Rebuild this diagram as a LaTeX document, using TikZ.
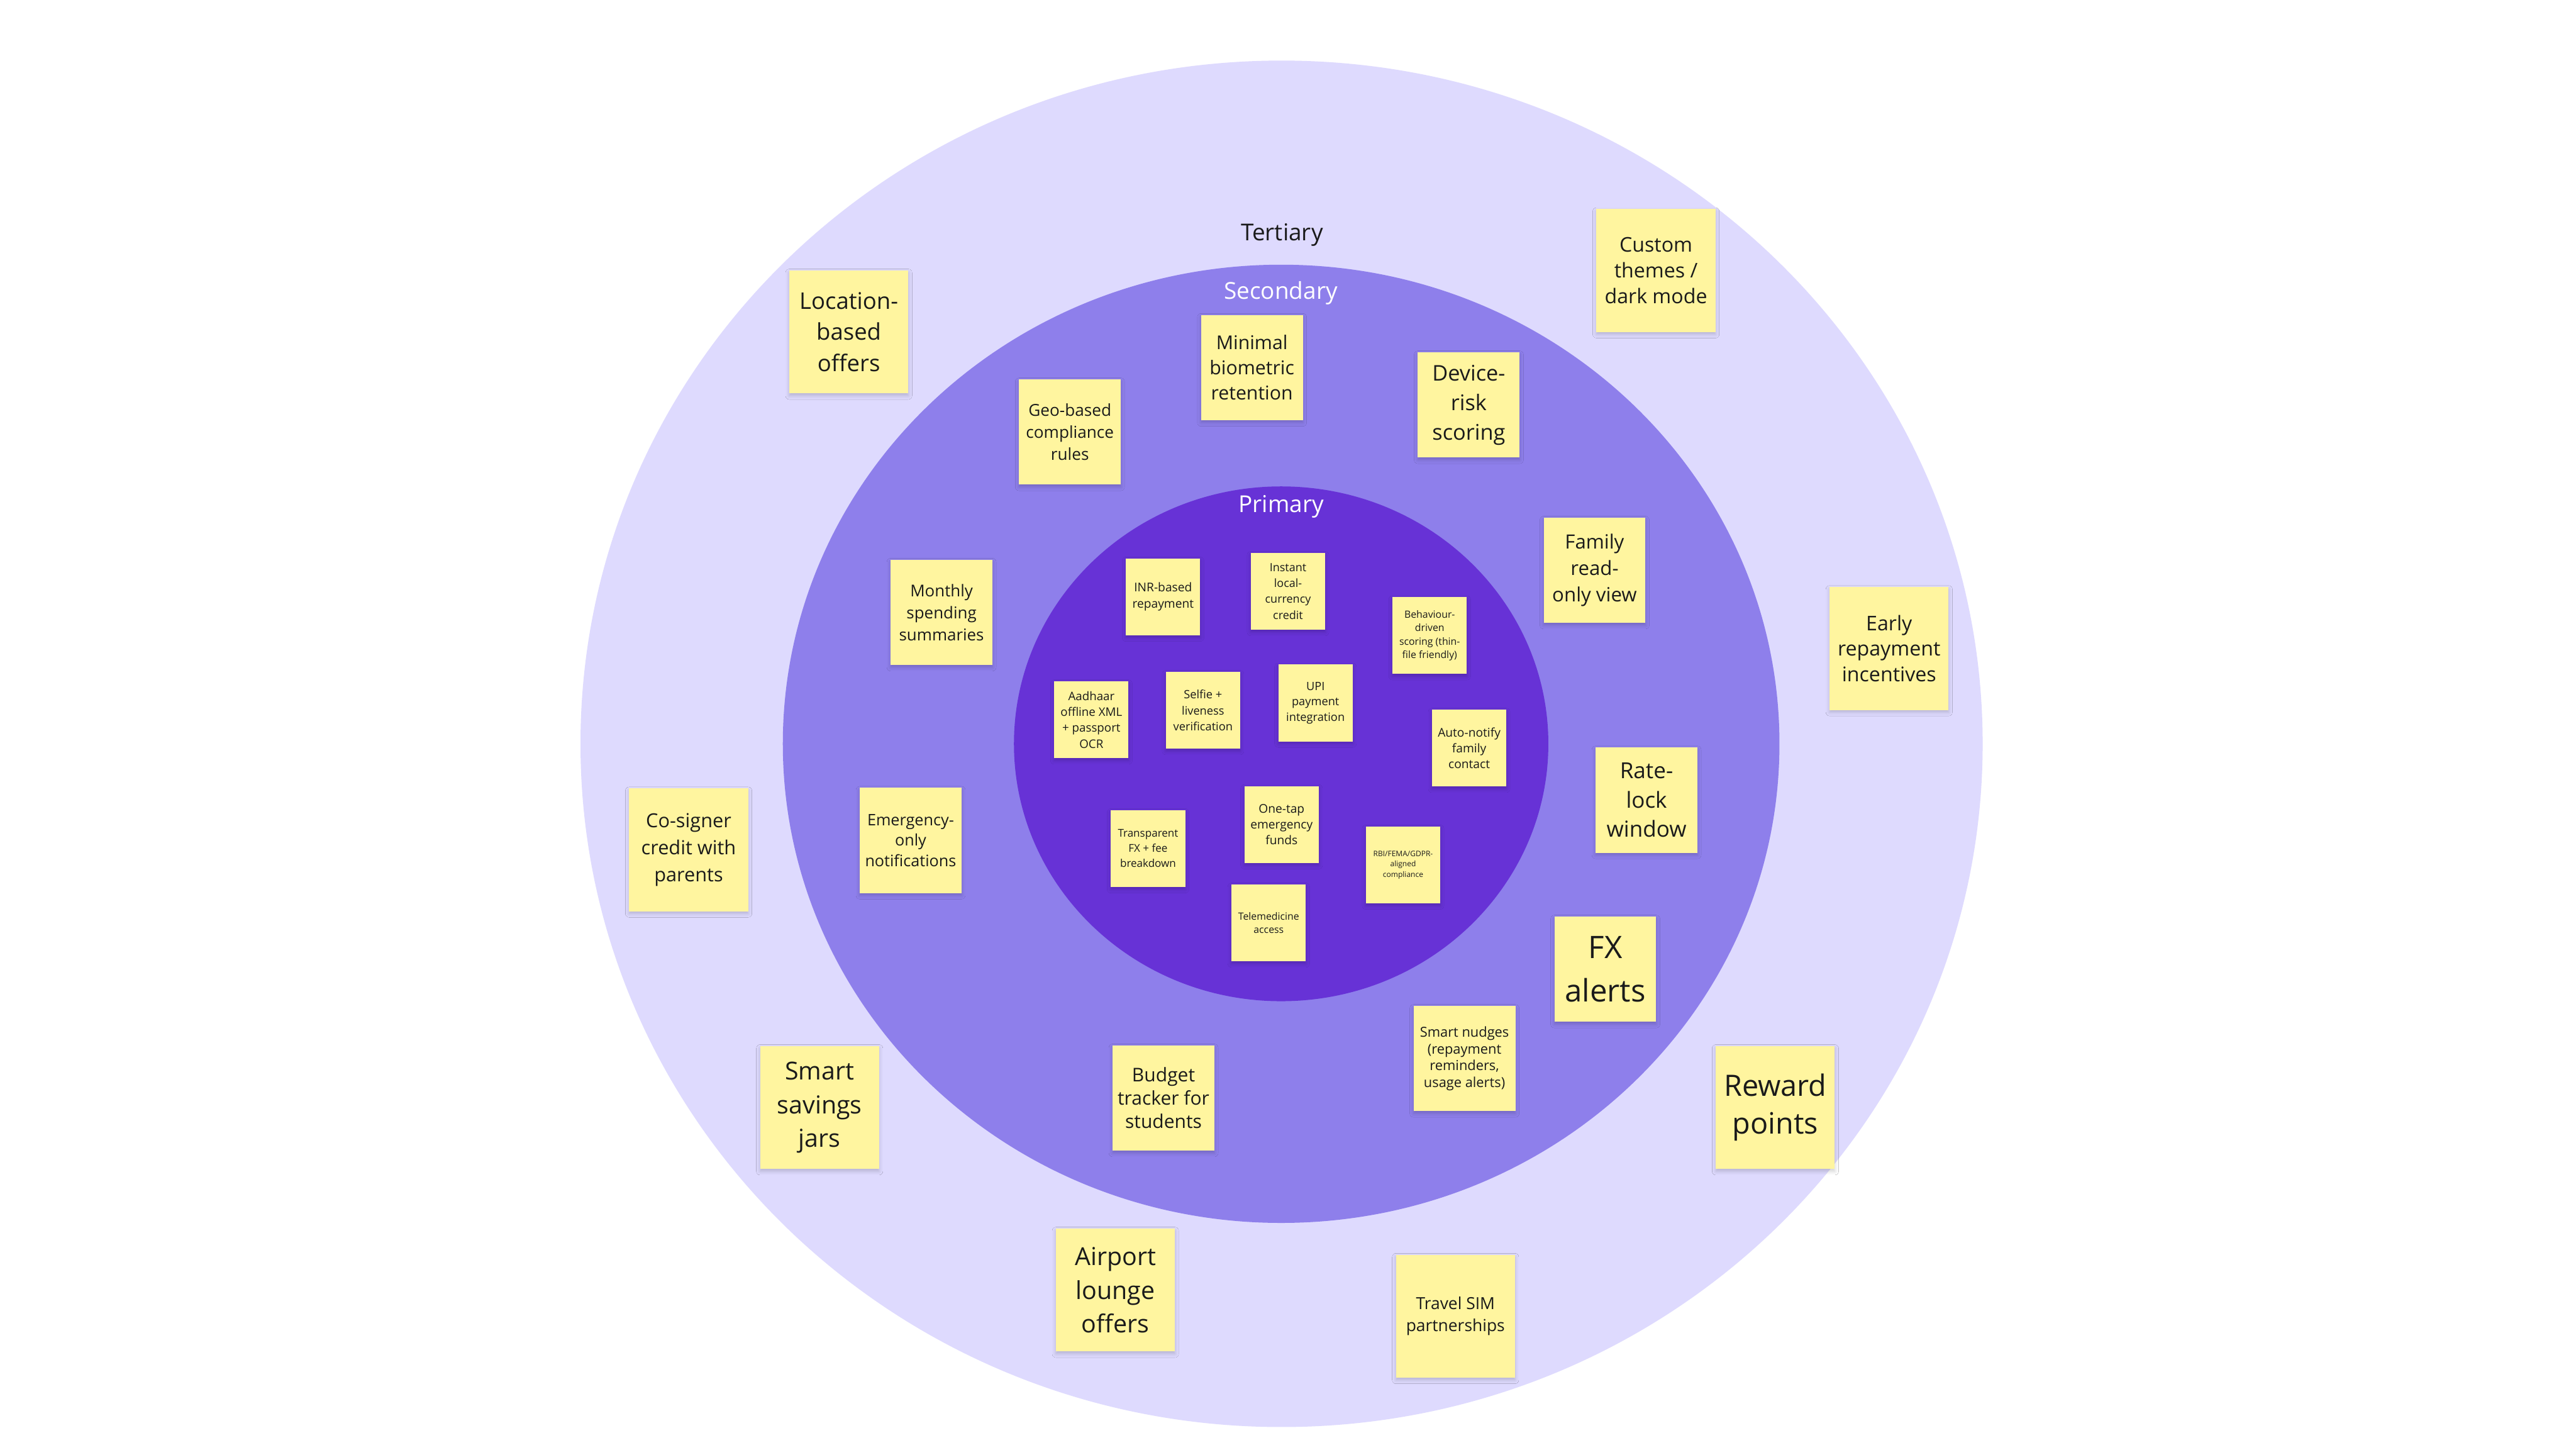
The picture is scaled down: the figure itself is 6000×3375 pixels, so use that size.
\documentclass[tikz,border=0pt]{standalone}
\usepackage{fontspec}
\setmainfont{Open Sans}
\usepackage{xcolor}
\usepackage{tikz}
\usetikzlibrary{shadows, shadows.blur}
\definecolor{ringOuter}{HTML}{DEDAFE}
\definecolor{ringMid}{HTML}{8E7FEB}
\definecolor{ringCore}{HTML}{6732D6}
\definecolor{noteYellow}{HTML}{FFF59F}
\definecolor{noteInk}{HTML}{1A1A1A}
\newcommand{\nfont}[2]{\fontsize{#1}{#2}\selectfont}

\begin{document}
\begin{tikzpicture}[
  x=0.01cm, y=-0.01cm,
  note/.style={fill=noteYellow, text=noteInk, align=center, inner sep=0pt,
               blur shadow={shadow xshift=0pt, shadow yshift=-1.5pt,
                            shadow blur radius=2.5pt, shadow opacity=18}},
  tnote/.style={note, minimum width=2.77cm, minimum height=2.86cm},
  snote/.style={note, minimum width=2.37cm, minimum height=2.45cm},
  pnote/.style={note, minimum width=1.73cm, minimum height=1.79cm},
  ringlabel/.style={font=\nfont{15.4}{18}},
]
  \fill[white] (0,0) rectangle (6000,3375);
  \useasboundingbox (0,0) rectangle (6000,3375);

  % RINGS
  \fill[ringOuter] (2985,1732) ellipse [x radius=16.32cm, y radius=15.90cm];
  \fill[ringMid]   (2984,1732) ellipse [x radius=11.60cm, y radius=11.15cm];
  \fill[ringCore]  (2984,1732) ellipse [x radius=6.22cm, y radius=5.99cm];

  \node[ringlabel, text=noteInk] (tertiary) at (2986,547) {Tertiary};
  \node[ringlabel, text=white] (secondary) at (2983,683) {Secondary};
  \node[ringlabel, text=white] (primary) at (2984,1180) {Primary};

  % TERTIARY
  \node[tnote, font=\nfont{15.2}{20.6}] (locoffers) at (1977,773) {Location-\\based\\offers};
  \node[tnote, font=\nfont{13.4}{17}] (themes) at (3857,630) {Custom\\themes /\\dark mode};
  \node[tnote, font=\nfont{13.4}{16.8}] (earlyrepay) at (4400,1510) {Early\\repayment\\incentives};
  \node[tnote, font=\nfont{12.8}{17.8}] (cosigner) at (1604,1979) {Co-signer\\credit with\\parents};
  \node[tnote, font=\nfont{16.4}{22.4}] (savejars) at (1909,2579) {Smart\\savings\\jars};
  \node[tnote, font=\nfont{16.4}{22.2}] (lounge) at (2598,3004) {Airport\\lounge\\offers};
  \node[tnote, font=\nfont{11}{14.5}] (travelsim) at (3390,3065) {Travel SIM\\partnerships};
  \node[tnote, font=\nfont{19.5}{25}] (rewards) at (4135,2579) {Reward\\points};

  % SECONDARY
  \node[snote, font=\nfont{10.9}{14.5}] (geocomp) at (2492,1006) {Geo-based\\compliance\\rules};
  \node[snote, font=\nfont{12.6}{16.7}] (biometric) at (2916,856) {Minimal\\biometric\\retention};
  \node[snote, font=\nfont{14.3}{19.6}] (devrisk) at (3421,943) {Device-\\risk\\scoring};
  \node[snote, font=\nfont{13}{17.4}] (familyview) at (3714,1328) {Family\\read-\\only view};
  \node[snote, font=\nfont{10.8}{14.5}] (monthly) at (2193,1426) {Monthly\\spending\\summaries};
  \node[snote, font=\nfont{10.5}{13.4}] (emergnotif) at (2121,1957) {Emergency-\\only\\notifications};
  \node[snote, font=\nfont{14.6}{19.3}] (ratelock) at (3835,1863) {Rate-\\lock\\window};
  \node[snote, font=\nfont{20.5}{28.7}] (fxalerts) at (3739,2257) {FX\\alerts};
  \node[snote, font=\nfont{9.1}{11.1}] (nudges) at (3411,2465) {Smart nudges\\(repayment\\reminders,\\usage alerts)};
  \node[snote, font=\nfont{12.5}{15.4}] (budget) at (2710,2557) {Budget\\tracker for\\students};

  % PRIMARY
  \node[pnote, font=\nfont{8}{10.8}] (inrrepay) at (2709,1390) {INR-based\\repayment};
  \node[pnote, font=\nfont{7.5}{10.5}] (instcredit) at (3000,1377) {Instant\\local-\\currency\\credit};
  \node[pnote, font=\nfont{6.6}{9}] (behaviour) at (3330,1480) {Behaviour-\\driven\\scoring (thin-\\file friendly)};
  \node[pnote, font=\nfont{7.8}{10.5}] (aadhaar) at (2542,1676) {Aadhaar\\offline XML\\+ passport\\OCR};
  \node[pnote, font=\nfont{7.6}{10.5}] (selfie) at (2802,1654) {Selfie +\\liveness\\verification};
  \node[pnote, font=\nfont{7.6}{10.3}] (upi) at (3064,1637) {UPI\\payment\\integration};
  \node[pnote, font=\nfont{8}{10.6}] (autonotify) at (3422,1742) {Auto-notify\\family\\contact};
  \node[pnote, font=\nfont{8}{10.5}] (onetap) at (2985,1920) {One-tap\\emergency\\funds};
  \node[pnote, font=\nfont{7.1}{10}] (transfx) at (2674,1976) {Transparent\\FX + fee\\breakdown};
  \node[pnote, font=\nfont{5}{6.8}] (rbicomp) at (3268,2014) {RBI/FEMA/GDPR-\\aligned\\compliance};
  \node[pnote, font=\nfont{6.6}{9.1}] (telemed) at (2955,2149) {Telemedicine\\access};
\end{tikzpicture}
\end{document}
